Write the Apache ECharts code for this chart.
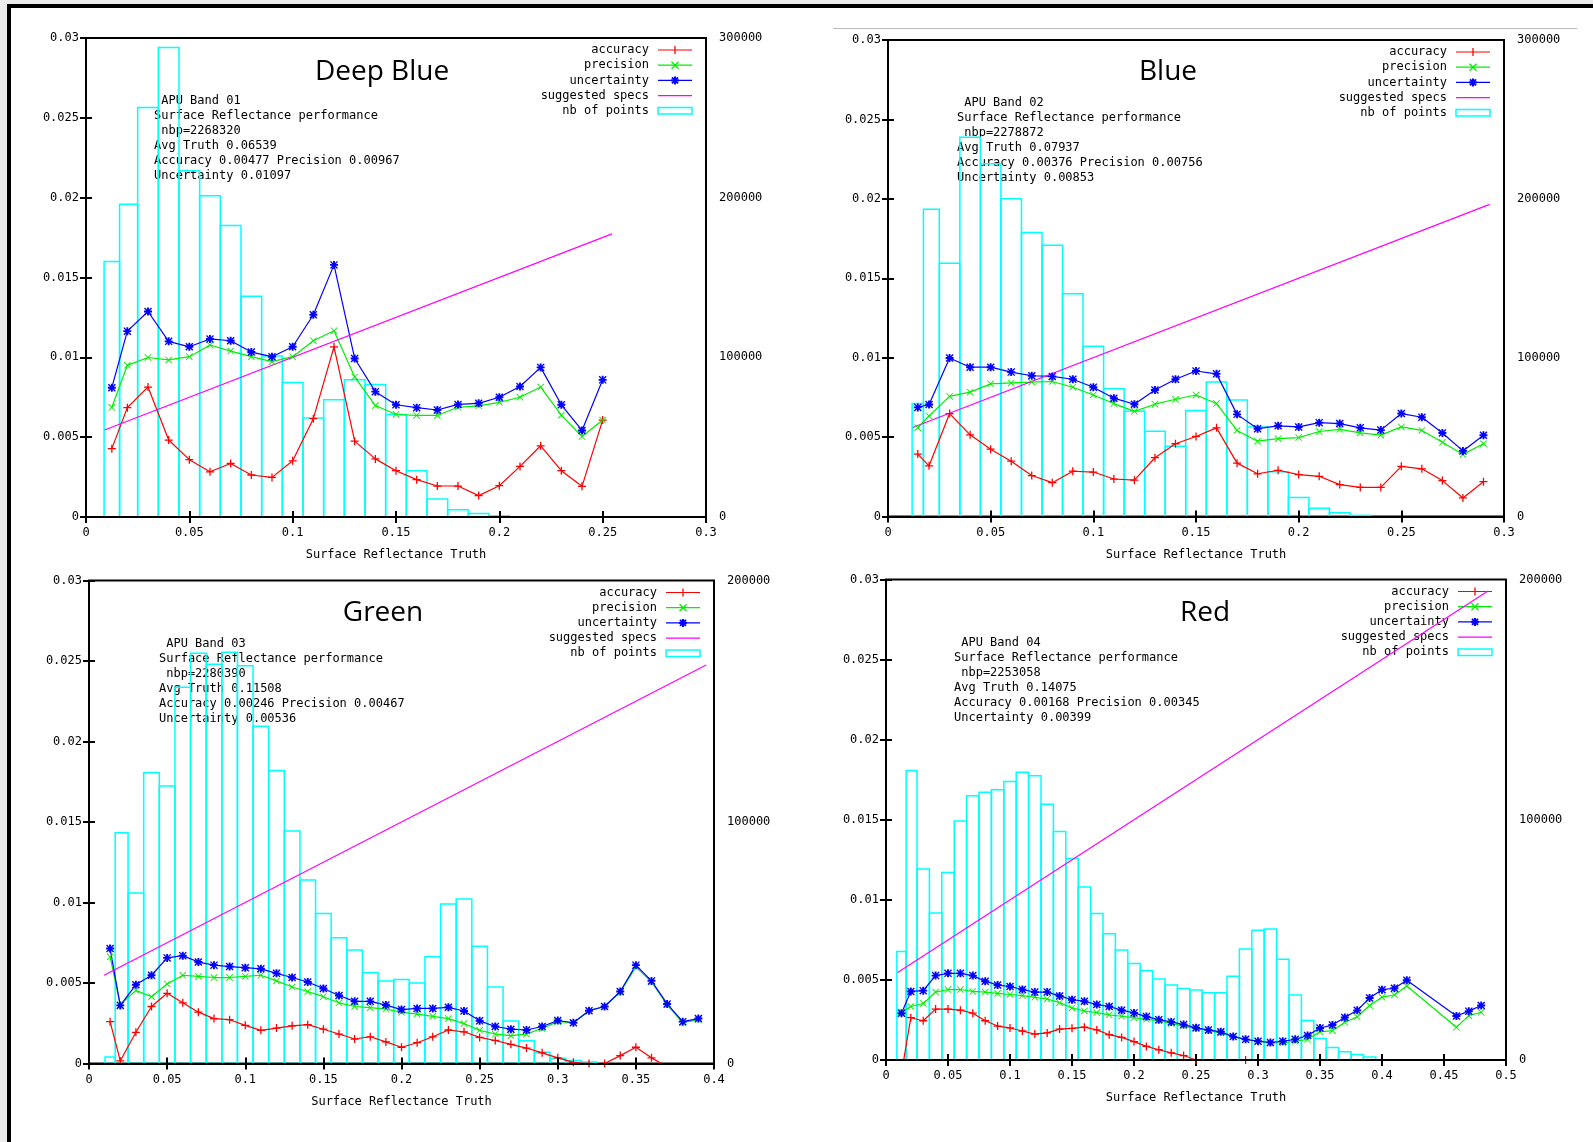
<!DOCTYPE html>
<html>
<head>
<meta charset="utf-8">
<title>APU surface reflectance performance</title>
<script src="https://cdn.jsdelivr.net/npm/echarts/dist/echarts.min.js"></script>
<style>
  html, body { margin: 0; padding: 0; width: 1593px; height: 1142px; overflow: hidden; background: #ececec; }
  #sheet { position: absolute; left: 7px; top: 4px; right: 0; bottom: 0; background: #fff;
           border-left: 4px solid #000; border-top: 4px solid #000; }
  #chart { position: absolute; left: 0; top: 0; width: 1593px; height: 1142px; }
</style>
</head>
<body>
<div id="sheet"></div>
<div id="chart"></div>
<script>
// ---------- Band 01 : Deep Blue ----------
const deepBlueX = [0.0125, 0.02, 0.03, 0.04, 0.05, 0.06, 0.07, 0.08, 0.09, 0.10, 0.11, 0.12, 0.13,
  0.14, 0.15, 0.16, 0.17, 0.18, 0.19, 0.20, 0.21, 0.22, 0.23, 0.24, 0.25];
const deepBlueAccuracy = [0.00428, 0.00685, 0.00814, 0.00482, 0.00359, 0.00283, 0.00335, 0.00263, 0.00248,
  0.00352, 0.00616, 0.01066, 0.00475, 0.00364, 0.00290, 0.00234, 0.00194, 0.00194, 0.00134, 0.00196,
  0.00317, 0.00446, 0.00290, 0.00192, 0.00607];
const deepBluePrecision = [0.00687, 0.00950, 0.00999, 0.00984, 0.01004, 0.01077, 0.01039, 0.01004, 0.00973,
  0.01004, 0.01104, 0.01167, 0.00877, 0.00698, 0.00642, 0.00636, 0.00636, 0.00687, 0.00696, 0.00718,
  0.00750, 0.00814, 0.00638, 0.00504, 0.00607];
const deepBlueUncertainty = [0.00810, 0.01164, 0.01287, 0.01100, 0.01066, 0.01115, 0.01104, 0.01033, 0.01004,
  0.01066, 0.01267, 0.01579, 0.00993, 0.00785, 0.00703, 0.00685, 0.00670, 0.00705, 0.00712, 0.00750,
  0.00817, 0.00937, 0.00703, 0.00542, 0.00859];
const deepBlueCounts = [160000, 195800, 256500, 294000, 216800, 201200, 182500, 138300, 100800, 84300,
  62000, 73400, 85900, 83000, 64200, 29000, 11200, 4500, 2200, 700];
const deepBlueSpecs = [[0.009, 0.00545], [0.2545, 0.01773]];

// ---------- Band 02 : Blue ----------
const blueX = [0.0145, 0.02, 0.03, 0.04, 0.05, 0.06, 0.07, 0.08, 0.09, 0.10, 0.11, 0.12, 0.13, 0.14,
  0.15, 0.16, 0.17, 0.18, 0.19, 0.20, 0.21, 0.22, 0.23, 0.24, 0.25, 0.26, 0.27, 0.28, 0.29];
const blueAccuracy = [0.00393, 0.00319, 0.00648, 0.00514, 0.00424, 0.00348, 0.00258, 0.00213, 0.00285,
  0.00280, 0.00236, 0.00229, 0.00370, 0.00458, 0.00504, 0.00558, 0.00336, 0.00269, 0.00291, 0.00264,
  0.00253, 0.00201, 0.00183, 0.00183, 0.00316, 0.00300, 0.00226, 0.00117, 0.00219];
const bluePrecision = [0.00559, 0.00633, 0.00756, 0.00783, 0.00835, 0.00841, 0.00846, 0.00850, 0.00814,
  0.00765, 0.00711, 0.00662, 0.00707, 0.00738, 0.00765, 0.00711, 0.00542, 0.00474, 0.00490, 0.00497,
  0.00535, 0.00549, 0.00526, 0.00512, 0.00564, 0.00542, 0.00467, 0.00391, 0.00458];
const blueUncertainty = [0.00687, 0.00705, 0.00998, 0.00940, 0.00940, 0.00909, 0.00886, 0.00882, 0.00864,
  0.00814, 0.00745, 0.00707, 0.00796, 0.00864, 0.00916, 0.00898, 0.00643, 0.00553, 0.00571, 0.00564,
  0.00591, 0.00585, 0.00558, 0.00544, 0.00648, 0.00625, 0.00526, 0.00413, 0.00512];
const blueCounts = [71100, 193400, 159500, 238700, 222100, 200100, 178800, 170700, 140200, 107200,
  80500, 66200, 53600, 44200, 66800, 84700, 73400, 56400, 28200, 12000, 5200, 2300, 700];
const blueSpecs = [[0.012, 0.0056], [0.293, 0.01965]];

// ---------- Band 03 : Green ----------
const greenX = [0.0135, 0.02, 0.03, 0.04, 0.05, 0.06, 0.07, 0.08, 0.09, 0.10, 0.11, 0.12, 0.13, 0.14,
  0.15, 0.16, 0.17, 0.18, 0.19, 0.20, 0.21, 0.22, 0.23, 0.24, 0.25, 0.26, 0.27, 0.28, 0.29, 0.30,
  0.31, 0.32, 0.33, 0.34, 0.35, 0.36, 0.37, 0.38, 0.39];
const greenAccuracy = [0.00260, 0.00016, 0.00194, 0.00354, 0.00436, 0.00377, 0.00319, 0.00279, 0.00272,
  0.00237, 0.00206, 0.00220, 0.00234, 0.00241, 0.00213, 0.00183, 0.00152, 0.00166, 0.00134, 0.00101,
  0.00129, 0.00166, 0.00208, 0.00197, 0.00162, 0.00143, 0.00119, 0.00096, 0.00066, 0.00035,
  0.00007, 0.00000, 0.00000, 0.00049, 0.00101, 0.00035, -0.00020, -0.00080, -0.00060];
const greenPrecision = [0.00663, 0.00365, 0.00454, 0.00415, 0.00494, 0.00548, 0.00541, 0.00534, 0.00534,
  0.00541, 0.00548, 0.00513, 0.00475, 0.00447, 0.00415, 0.00377, 0.00354, 0.00347, 0.00338, 0.00319,
  0.00307, 0.00293, 0.00279, 0.00248, 0.00206, 0.00183, 0.00173, 0.00183, 0.00218, 0.00260,
  0.00253, 0.00328, 0.00354, 0.00443, 0.00600, 0.00506, 0.00365, 0.00253, 0.00272];
const greenUncertainty = [0.00714, 0.00361, 0.00489, 0.00548, 0.00656, 0.00670, 0.00630, 0.00611, 0.00602,
  0.00595, 0.00588, 0.00560, 0.00534, 0.00506, 0.00466, 0.00422, 0.00386, 0.00386, 0.00363, 0.00335,
  0.00342, 0.00342, 0.00349, 0.00326, 0.00265, 0.00230, 0.00213, 0.00208, 0.00230, 0.00267,
  0.00253, 0.00328, 0.00354, 0.00447, 0.00611, 0.00513, 0.00370, 0.00260, 0.00279];
const greenCounts = [2700, 95500, 70600, 120400, 114900, 155800, 169900, 165300, 170300, 164700,
  139600, 121300, 96300, 76000, 62100, 52100, 47000, 37600, 34200, 34800, 33300, 44200, 66000,
  68100, 48600, 31700, 17600, 9400, 4700, 2200, 1200, 600];
const greenSpecs = [[0.0096, 0.00548], [0.395, 0.02475]];

// ---------- Band 04 : Red ----------
const redX = [0.0125, 0.02, 0.03, 0.04, 0.05, 0.06, 0.07, 0.08, 0.09, 0.10, 0.11, 0.12, 0.13, 0.14,
  0.15, 0.16, 0.17, 0.18, 0.19, 0.20, 0.21, 0.22, 0.23, 0.24, 0.25, 0.26, 0.27, 0.28, 0.29, 0.30,
  0.31, 0.32, 0.33, 0.34, 0.35, 0.36, 0.37, 0.38, 0.39, 0.40, 0.41, 0.42, 0.46, 0.47, 0.48];
const redAccuracy = [-0.00082, 0.00264, 0.00245, 0.00318, 0.00318, 0.00311, 0.00292, 0.00245, 0.00212,
  0.00200, 0.00181, 0.00162, 0.00169, 0.00193, 0.00198, 0.00205, 0.00188, 0.00158, 0.00141, 0.00115,
  0.00085, 0.00064, 0.00045, 0.00028, 0.00000, -0.00030, -0.00040, -0.00020, 0.00000, -0.00040,
  -0.00060, -0.00080, -0.00090, -0.00100, -0.00110, -0.00100, -0.00120, -0.00130, -0.00150, -0.00160,
  -0.00150, -0.00180, -0.00170, -0.00190, -0.00200];
const redPrecision = [0.00300, 0.00334, 0.00353, 0.00424, 0.00440, 0.00440, 0.00428, 0.00424, 0.00416,
  0.00409, 0.00402, 0.00391, 0.00381, 0.00358, 0.00325, 0.00306, 0.00296, 0.00282, 0.00273, 0.00264,
  0.00254, 0.00245, 0.00228, 0.00212, 0.00196, 0.00183, 0.00169, 0.00146, 0.00129, 0.00117,
  0.00106, 0.00106, 0.00117, 0.00129, 0.00176, 0.00183, 0.00235, 0.00270, 0.00340, 0.00392,
  0.00406, 0.00462, 0.00204, 0.00277, 0.00298];
const redUncertainty = [0.00292, 0.00428, 0.00433, 0.00527, 0.00541, 0.00541, 0.00527, 0.00492, 0.00468,
  0.00459, 0.00440, 0.00424, 0.00424, 0.00400, 0.00376, 0.00367, 0.00346, 0.00334, 0.00311, 0.00294,
  0.00271, 0.00252, 0.00238, 0.00221, 0.00201, 0.00188, 0.00176, 0.00146, 0.00129, 0.00117,
  0.00110, 0.00117, 0.00129, 0.00153, 0.00200, 0.00218, 0.00265, 0.00310, 0.00387, 0.00439,
  0.00448, 0.00498, 0.00275, 0.00305, 0.00340];
const redCounts = [45200, 120500, 79500, 61200, 78000, 99500, 110000, 111400, 112500, 115900, 119800,
  118300, 106500, 95100, 83900, 72000, 61000, 52500, 45800, 40200, 37200, 33700, 31200, 29800, 29100,
  28000, 28000, 34900, 46200, 54000, 54500, 41900, 27100, 16400, 8900, 5200, 3400, 2300, 1200];
const redSpecs = [[0.0094, 0.00547], [0.4855, 0.02928]];

// ---------- labels ----------
const panelTitles = ['Deep Blue', 'Blue', 'Green', 'Red'];
const seriesNames = ['accuracy', 'precision', 'uncertainty', 'suggested specs', 'nb of points'];
const bandInfo = [
  [' APU Band 01', 'Surface Reflectance performance', ' nbp=2268320', 'Avg Truth 0.06539',
   'Accuracy 0.00477 Precision 0.00967', 'Uncertainty 0.01097'],
  [' APU Band 02', 'Surface Reflectance performance', ' nbp=2278872', 'Avg Truth 0.07937',
   'Accuracy 0.00376 Precision 0.00756', 'Uncertainty 0.00853'],
  [' APU Band 03', 'Surface Reflectance performance', ' nbp=2280390', 'Avg Truth 0.11508',
   'Accuracy 0.00246 Precision 0.00467', 'Uncertainty 0.00536'],
  [' APU Band 04', 'Surface Reflectance performance', ' nbp=2253058', 'Avg Truth 0.14075',
   'Accuracy 0.00168 Precision 0.00345', 'Uncertainty 0.00399']
];
const xAxisTitle = 'Surface Reflectance Truth';
const xAxisMax = [0.3, 0.3, 0.4, 0.5];
const xTickStep = 0.05;
const leftAxisMax = 0.03;
const leftTickStep = 0.005;
const countAxisMax = [300000, 300000, 200000, 200000];
const countTickStep = 100000;

// ---------- drawing ----------
const MONO = '"DejaVu Sans Mono", monospace';
const SANS = '"Open Sans", sans-serif';
const COLORS = { accuracy: '#ff0000', precision: '#00ee00', uncertainty: '#0000ff', specs: '#ff00ff', counts: '#00ffff' };
const PLUS = 'M4.2,0H5.8V10H4.2Z M0,4.2H10V5.8H0Z';
const CROSS = 'M0.9,0L10,9.1L9.1,10L0,0.9Z M9.1,0L10,0.9L0.9,10L0,9.1Z';
const STAR = 'M3.8,0H6.2V10H3.8Z M0,3.8H10V6.2H0Z M1.2,0L10,8.8L8.8,10L0,1.2Z M8.8,0L10,1.2L1.2,10L0,8.8Z';

const panels = [
  { x: deepBlueX, acc: deepBlueAccuracy, prec: deepBluePrecision, unc: deepBlueUncertainty, counts: deepBlueCounts, specs: deepBlueSpecs },
  { x: blueX, acc: blueAccuracy, prec: bluePrecision, unc: blueUncertainty, counts: blueCounts, specs: blueSpecs },
  { x: greenX, acc: greenAccuracy, prec: greenPrecision, unc: greenUncertainty, counts: greenCounts, specs: greenSpecs },
  { x: redX, acc: redAccuracy, prec: redPrecision, unc: redUncertainty, counts: redCounts, specs: redSpecs }
];

// plot frames in page pixels
const frames = [
  { left: 86, top: 38, width: 620, height: 479 },
  { left: 888, top: 40, width: 616, height: 476.5 },
  { left: 89, top: 580.5, width: 625, height: 483 },
  { left: 886, top: 579.5, width: 620, height: 480.5 }
];
const titleAt = [[382, 72], [1168, 72], [383, 613], [1205, 613]];
const infoAt = [[154, 101], [957, 102.5], [159, 643.5], [954, 642.5]];

const labelStyle = { color: '#000', fontFamily: MONO, fontSize: 12 };
const tickStyle = { show: true, inside: true, length: 6, lineStyle: { color: '#000', width: 2 } };

// small key glyphs built from line segments: [dx1, dy1, dx2, dy2] around the centre
const keyGlyphs = [
  { segs: [[0, -4, 0, 4]], width: 1.3 },                                        // +
  { segs: [[-3.5, -3.5, 3.5, 3.5], [-3.5, 3.5, 3.5, -3.5]], width: 1.3 },        // x
  { segs: [[0, -4, 0, 4], [-4, 0, 4, 0], [-3, -3, 3, 3], [-3, 3, 3, -3]], width: 2 } // *
];

const grid = [], xAxis = [], yAxis = [], series = [], graphic = [];

panels.forEach((p, g) => {
  const f = frames[g];
  grid.push({ left: f.left, top: f.top, width: f.width, height: f.height,
    show: true, borderColor: '#000', borderWidth: 2, backgroundColor: 'transparent' });

  // bottom x axis (labelled, its line kept above the histogram) and mirrored top ticks
  xAxis.push({ type: 'value', gridIndex: g, position: 'bottom', min: 0, max: xAxisMax[g], interval: xTickStep,
    z: 4, axisLine: { show: true, lineStyle: { color: '#000', width: 2 } }, axisTick: tickStyle,
    splitLine: { show: false },
    axisLabel: Object.assign({ margin: 10, formatter: v => String(v) }, labelStyle),
    name: xAxisTitle, nameLocation: 'middle', nameGap: 32, nameTextStyle: labelStyle });
  xAxis.push({ type: 'value', gridIndex: g, position: 'top', min: 0, max: xAxisMax[g], interval: xTickStep,
    axisLine: { show: false }, axisTick: tickStyle, splitLine: { show: false }, axisLabel: { show: false } });

  // left value axis, its mirrored ticks on the right, and the point-count axis
  yAxis.push({ type: 'value', gridIndex: g, position: 'left', min: 0, max: leftAxisMax, interval: leftTickStep,
    axisLine: { show: false }, axisTick: tickStyle, splitLine: { show: false },
    axisLabel: Object.assign({ margin: 7, formatter: v => String(v) }, labelStyle) });
  yAxis.push({ type: 'value', gridIndex: g, position: 'right', min: 0, max: leftAxisMax, interval: leftTickStep,
    axisLine: { show: false }, axisTick: tickStyle, splitLine: { show: false }, axisLabel: { show: false } });
  yAxis.push({ type: 'value', gridIndex: g, position: 'right', min: 0, max: countAxisMax[g], interval: countTickStep,
    axisLine: { show: false }, axisTick: { show: false }, splitLine: { show: false },
    axisLabel: Object.assign({ margin: 13, formatter: v => String(v) }, labelStyle) });

  const xi = 2 * g, yi = 3 * g;
  const xs = p.x;

  // histogram of point counts, drawn as open boxes between neighbouring bin centres
  series.push({
    name: seriesNames[4], type: 'custom', xAxisIndex: xi, yAxisIndex: yi + 2, z: 1, silent: true,
    data: p.counts.map((v, i) => [xs[i], v, i]),
    encode: { x: 0, y: 1 },
    renderItem: (params, api) => {
      const i = api.value(2);
      const xc = xs[i];
      let right = i + 1 < xs.length ? (xc + xs[i + 1]) / 2 : null;
      let left = i > 0 ? (xs[i - 1] + xc) / 2 : null;
      if (left === null) left = xc - (right - xc);
      if (right === null) right = xc + (xc - left);
      const a = api.coord([left, api.value(1)]);
      const b = api.coord([right, 0]);
      return { type: 'rect', shape: { x: a[0], y: a[1], width: b[0] - a[0], height: b[1] - a[1] },
        style: { fill: 'none', stroke: COLORS.counts, lineWidth: 1.5 } };
    }
  });

  const lineSeries = (name, vals, color, path, size) => ({
    name, type: 'line', xAxisIndex: xi, yAxisIndex: yi, z: 3, clip: true, silent: true,
    data: vals.map((v, i) => [xs[i], v]),
    symbol: 'path://' + path, symbolSize: size, symbolKeepAspect: true, showAllSymbol: true,
    itemStyle: { color }, lineStyle: { color, width: 1.2 }
  });
  series.push(lineSeries(seriesNames[0], p.acc, COLORS.accuracy, PLUS, 8));
  series.push(lineSeries(seriesNames[1], p.prec, COLORS.precision, CROSS, 7));
  series.push(lineSeries(seriesNames[2], p.unc, COLORS.uncertainty, STAR, 8));
  series.push({ name: seriesNames[3], type: 'line', xAxisIndex: xi, yAxisIndex: yi, z: 3, silent: true,
    data: p.specs, showSymbol: false, symbol: 'none', lineStyle: { color: COLORS.specs, width: 1.2 } });

  // panel title
  graphic.push({ type: 'text', x: titleAt[g][0], y: titleAt[g][1], z: 0,
    style: { text: panelTitles[g], font: '28px ' + SANS, fill: '#000', align: 'center', verticalAlign: 'middle' } });

  // statistics block
  graphic.push({ type: 'text', x: infoAt[g][0], y: infoAt[g][1] - 7.5, z: 0,
    style: { text: bandInfo[g].join('\n'), font: '12px ' + MONO, fill: '#000', lineHeight: 15,
      align: 'left', verticalAlign: 'top' } });

  // key, top-right inside the frame
  const right = f.left + f.width;
  const textRight = right - 57, s0 = right - 48, s1 = right - 14, sc = (s0 + s1) / 2;
  const keyColors = [COLORS.accuracy, COLORS.precision, COLORS.uncertainty, COLORS.specs];
  seriesNames.forEach((nm, k) => {
    const y = f.top + 12 + k * 15.2;
    graphic.push({ type: 'text', x: textRight, y, z: 0,
      style: { text: nm, font: '12px ' + MONO, fill: '#000', align: 'right', verticalAlign: 'middle' } });
    if (k < 4) {
      graphic.push({ type: 'line', z: 0, shape: { x1: s0, y1: y, x2: s1, y2: y },
        style: { stroke: keyColors[k], lineWidth: 1.2 } });
      if (k < 3) {
        keyGlyphs[k].segs.forEach(sg => {
          graphic.push({ type: 'line', z: 0,
            shape: { x1: sc + sg[0], y1: y + sg[1], x2: sc + sg[2], y2: y + sg[3] },
            style: { stroke: keyColors[k], lineWidth: keyGlyphs[k].width } });
        });
      }
    } else {
      graphic.push({ type: 'rect', z: 0, shape: { x: s0, y: y - 3.2, width: s1 - s0, height: 6.4 },
        style: { fill: 'none', stroke: COLORS.counts, lineWidth: 1.5 } });
    }
  });
});

// thin rule above the second panel
graphic.push({ type: 'line', z: 0, shape: { x1: 833, y1: 28.5, x2: 1577, y2: 28.5 },
  style: { stroke: '#bdbdbd', lineWidth: 1 } });

const chart = echarts.init(document.getElementById('chart'), null, { renderer: 'canvas' });
chart.setOption({
  animation: false,
  backgroundColor: 'transparent',
  grid, xAxis, yAxis, series, graphic
});
</script>
</body>
</html>
